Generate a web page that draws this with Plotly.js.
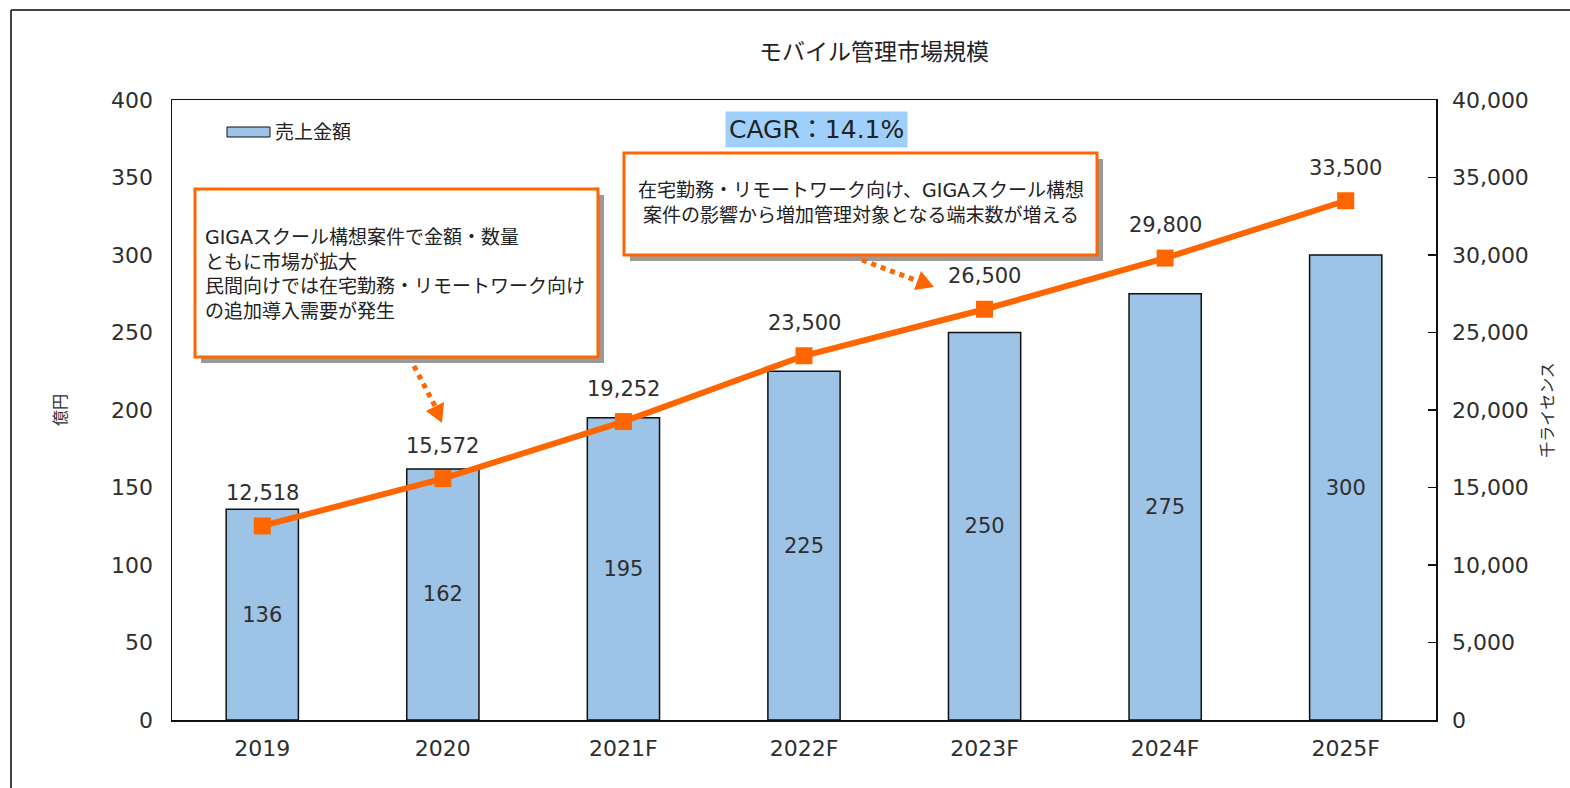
<!DOCTYPE html>
<html>
<head>
<meta charset="utf-8">
<script src="https://cdn.plot.ly/plotly-3.0.1.min.js"></script>
<style>
  html, body { margin: 0; padding: 0; background: #fff; }
  #chart { width: 1570px; height: 788px; }
</style>
</head>
<body>
<div id="chart"></div>
<script>
// ---- data ----
const categories = ['2019', '2020', '2021F', '2022F', '2023F', '2024F', '2025F'];
const salesValues = [136, 162, 195, 225, 250, 275, 300];          // 億円
const licenseValues = [12518, 15572, 19252, 23500, 26500, 29800, 33500]; // 千ライセンス
const leftTickValues = [0, 50, 100, 150, 200, 250, 300, 350, 400];
const rightTickValues = [0, 5000, 10000, 15000, 20000, 25000, 30000, 35000, 40000];
const chartTitle = 'モバイル管理市場規模';
const seriesBarName = '売上金額';
const seriesLineName = 'ライセンス数';
const leftAxisTitle = '億円';
const rightAxisTitle = '千ライセンス';
const cagrText = 'CAGR：14.1%';
const note1 = 'GIGAスクール構想案件で金額・数量<br>ともに市場が拡大<br>民間向けでは在宅勤務・リモートワーク向け<br>の追加導入需要が発生';
const note2 = '在宅勤務・リモートワーク向け、GIGAスクール構想<br>案件の影響から増加管理対象となる端末数が増える';

// ---- layout geometry (pixels) ----
const W = 1570, H = 788, L = 172, R = 1436, T = 100, B = 720;
const px = x => (x - L) / (R - L);
const py = y => (B - y) / (B - T);
const FONT = 'DejaVu Sans, "Noto Sans CJK JP", sans-serif';
const ORANGE = '#FF6600';
const TXT = '#2e2e2e';

const fmt = v => v.toLocaleString('en-US');

const barTrace = {
  type: 'bar',
  name: seriesBarName,
  x: categories,
  y: salesValues,
  text: salesValues.map(String),
  textposition: 'inside',
  insidetextanchor: 'middle',
  textangle: 0,
  textfont: { family: FONT, size: 21, color: TXT },
  marker: { color: '#9DC3E6', line: { color: '#111111', width: 1.5 } },
  width: 0.4,
  showlegend: false,
  hoverinfo: 'x+y'
};

const lineTrace = {
  type: 'scatter',
  name: seriesLineName,
  x: categories,
  y: licenseValues,
  yaxis: 'y2',
  mode: 'lines+markers',
  line: { color: ORANGE, width: 6 },
  marker: { symbol: 'square', size: 17, color: ORANGE },
  showlegend: false,
  cliponaxis: false
};

// line value labels from data (x given as category index)
const lineLabels = categories.map((c, i) => ({
  x: i, y: licenseValues[i], xref: 'x', yref: 'y2',
  text: fmt(licenseValues[i]), showarrow: false, yshift: 33,
  font: { family: FONT, size: 21, color: TXT }
}));

function rect(x0, y0, x1, y1, fill, lineColor, lw) {
  return { type: 'rect', xref: 'paper', yref: 'paper',
    x0: px(x0), x1: px(x1), y0: py(y1), y1: py(y0),
    fillcolor: fill, line: { color: lineColor, width: lw } };
}
function seg(x0, y0, x1, y1, color, width, dash) {
  return { type: 'line', xref: 'paper', yref: 'paper',
    x0: px(x0), y0: py(y0), x1: px(x1), y1: py(y1),
    line: { color: color, width: width, dash: dash || 'solid' } };
}
function tri(pts, color) {
  const d = 'M' + pts.map(p => px(p[0]) + ',' + py(p[1])).join(' L') + ' Z';
  return { type: 'path', xref: 'paper', yref: 'paper', path: d,
    fillcolor: color, line: { color: color, width: 0 } };
}

const shapes = [
  // outer frame
  seg(11, 10, 1575, 10, '#444', 2),
  seg(11, 10, 11, 795, '#444', 2),
  // note box 1 with shadow
  rect(201, 195, 604, 363, '#9a9a9a', '#9a9a9a', 0),
  rect(195, 189, 598, 357, '#ffffff', ORANGE, 3),
  // note box 2 with shadow
  rect(630, 159, 1103, 261, '#9a9a9a', '#9a9a9a', 0),
  rect(624, 153, 1097, 255, '#ffffff', ORANGE, 3),
  // dotted arrows
  seg(414, 366, 435, 406, ORANGE, 5, '5px,5px'),
  tri([[442, 423], [426, 411], [444, 402]], ORANGE),
  seg(862, 260, 915, 280, ORANGE, 5, '5px,5px'),
  tri([[934, 287], [914, 290], [921, 271]], ORANGE),
  // legend swatch
  rect(227, 127, 270, 137, '#9DC3E6', '#111111', 1)
];

const annotations = lineLabels.concat([
  { xref: 'paper', yref: 'paper', x: px(816), y: py(129), xanchor: 'center', yanchor: 'middle',
    text: cagrText, showarrow: false, bgcolor: '#9FCFFB', borderpad: 3,
    font: { family: FONT, size: 25, color: '#222' } },
  { xref: 'paper', yref: 'paper', x: px(203), y: py(274), xanchor: 'left', yanchor: 'middle', align: 'left',
    text: note1, showarrow: false, font: { family: FONT, size: 19, color: '#222' } },
  { xref: 'paper', yref: 'paper', x: px(861), y: py(202), xanchor: 'center', yanchor: 'middle', align: 'center',
    text: note2, showarrow: false, font: { family: FONT, size: 19, color: '#222' } },
  { xref: 'paper', yref: 'paper', x: px(273), y: py(132), xanchor: 'left', yanchor: 'middle',
    text: seriesBarName, showarrow: false, font: { family: FONT, size: 19, color: '#222' } }
]);

const layout = {
  width: W, height: H,
  margin: { l: L, r: W - R, t: T, b: H - B, pad: 0 },
  paper_bgcolor: '#ffffff', plot_bgcolor: '#ffffff',
  font: { family: FONT, color: TXT },
  title: { text: chartTitle, x: 874 / W, xref: 'container', xanchor: 'center',
    y: 1 - 52 / H, yref: 'container', yanchor: 'middle',
    font: { family: FONT, size: 23, color: '#222' } },
  showlegend: false,
  xaxis: {
    type: 'category', automargin: false, range: [-0.5, categories.length - 0.5],
    showline: true, linecolor: '#111', linewidth: 1.5, mirror: true,
    ticks: '', ticklabelstandoff: 8,
    tickfont: { family: FONT, size: 22, color: TXT },
    showgrid: false, zeroline: false
  },
  yaxis: {
    range: [0, 400], tickvals: leftTickValues, automargin: false,
    showline: true, linecolor: '#111', linewidth: 1.5, mirror: false,
    ticks: '', ticklabelstandoff: 13,
    tickfont: { family: FONT, size: 22, color: TXT },
    showgrid: false, zeroline: false,
    title: { text: leftAxisTitle, standoff: 40, font: { family: FONT, size: 16, color: TXT } }
  },
  yaxis2: {
    overlaying: 'y', side: 'right', range: [0, 40000], tickvals: rightTickValues,
    tickformat: ',d', automargin: false,
    showline: true, linecolor: '#111', linewidth: 1.5,
    ticks: 'inside', ticklen: 8, tickcolor: '#111', tickwidth: 1.5,
    ticklabelstandoff: 10,
    tickfont: { family: FONT, size: 22, color: TXT },
    showgrid: false, zeroline: false,
    title: { text: rightAxisTitle, standoff: 14, font: { family: FONT, size: 16, color: TXT } }
  },
  shapes: shapes,
  annotations: annotations
};

Plotly.newPlot('chart', [barTrace, lineTrace], layout, { displayModeBar: false, staticPlot: true });
</script>
</body>
</html>
